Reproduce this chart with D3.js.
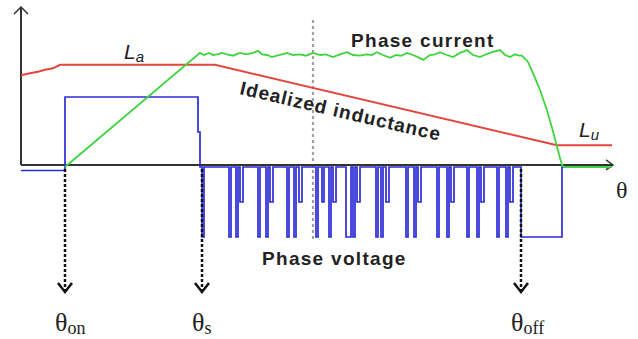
<!DOCTYPE html>
<html>
<head>
<meta charset="utf-8">
<script src="https://d3js.org/d3.v7.min.js"></script>
<style>
body { margin: 0; background: #fff; }
svg { display: block; }
</style>
</head>
<body>
<div id="chart"></div>
<script>
// theta in arbitrary units (0..300), signal values in per-unit
var thetaOn = 22, thetaS = 90.5, thetaOff = 250, thetaMid = 146;

// idealized inductance profile [theta, L]
var inductance = [
    [0, 1.31], [4.5, 1.34], [8.5, 1.36], [12, 1.39], [16, 1.41], [19.5, 1.46],
    [97, 1.46], [268, 0.31], [295.5, 0.31]
];

// phase current [theta, i]
var current = [
    [22, 0], [89.5, 1.63], [91.5, 1.60], [94, 1.63], [96, 1.60], [98, 1.61],
    [100.5, 1.63], [103, 1.61], [106, 1.59], [109.5, 1.63], [112.5, 1.61],
    [116, 1.63], [118.5, 1.66], [120.5, 1.61], [123, 1.60], [125.5, 1.57],
    [128, 1.59], [130.5, 1.61], [133, 1.63], [136, 1.60], [139.5, 1.61],
    [142.5, 1.59], [146, 1.63], [149.5, 1.60], [152.5, 1.61], [156, 1.57],
    [159.5, 1.61], [163, 1.64], [166, 1.60], [169.5, 1.59], [172.5, 1.61],
    [175.5, 1.60], [178, 1.64], [181, 1.60], [184.5, 1.56], [187.5, 1.60],
    [190, 1.59], [193, 1.63], [196, 1.60], [198.5, 1.57], [201, 1.53],
    [204.5, 1.60], [207, 1.61], [209.5, 1.64], [213, 1.60], [216, 1.57],
    [219.5, 1.63], [223, 1.67], [226, 1.60], [229.5, 1.57], [232.5, 1.61],
    [235.5, 1.64], [239.5, 1.67], [242, 1.60], [244.5, 1.57], [247, 1.61],
    [249, 1.59], [250.5, 1.59], [253.5, 1.50], [256, 1.34], [259.5, 1.10],
    [263, 0.81], [265.5, 0.56], [268, 0.29], [269.5, 0.13], [270.5, 0.03],
    [271.5, 0], [295.5, 0]
];

// phase voltage steps [theta, v] (value holds until next theta)
var voltage = [
    [0, -0.05], [22, 1], [88.5, 0.5], [89.5, 0], [90.5, -1], [91.5, 0],
    [104, -1], [105, 0], [107.5, -1], [108.5, 0], [109.5, -0.5], [111, 0],
    [118.5, -1], [119.5, 0], [122.5, -1], [123.5, 0], [124.5, -0.5], [126, 0],
    [133, -1], [134, 0], [136.5, -1], [137.5, 0], [139, -0.5], [140.5, 0],
    [147.5, -1], [148.5, 0], [150.5, -0.5], [151.5, 0], [154, -1], [155, 0], [156, -0.5], [157.5, 0],
    [162.5, -1], [165, 0], [166, -1], [167, 0], [168, -0.5], [169.5, 0],
    [177.5, -1], [178.5, 0], [180, -1], [181, 0], [182.5, -0.5], [184, 0],
    [192.5, -1], [193.5, 0], [196.5, -1], [197.5, 0], [198.5, -0.5], [200, 0],
    [208, -1], [209, 0], [213, -1], [214, 0], [215, -0.5], [216.5, 0],
    [223, -1], [224, 0], [228, -1], [229, 0], [230, -0.5], [231.5, 0],
    [238, -1], [239, 0], [242.5, -1], [243.5, 0], [244.5, -0.5], [246, 0],
    [250, -1], [270.5, 0], [295.5, 0]
];

var markers = [
    {theta: thetaOn, sub: 'on'},
    {theta: thetaS, sub: 's'},
    {theta: thetaOff, sub: 'off'}
];

var width = 638, height = 339;

var svg = d3.select('#chart').append('svg')
    .attr('width', width)
    .attr('height', height);

var x = d3.scaleLinear().domain([0, 300]).range([21, 621]);
var y = d3.scaleLinear().domain([-1, 2.2]).range([237, 13]);

var axisColor = '#333';
var sans = 'Liberation Sans, Arial, sans-serif';
var serif = 'Liberation Serif, Times New Roman, serif';

// dashed mid line
svg.append('line')
    .attr('x1', x(thetaMid)).attr('x2', x(thetaMid))
    .attr('y1', 20).attr('y2', 242)
    .attr('stroke', '#a0a0a0')
    .attr('stroke-width', 2.2)
    .attr('stroke-dasharray', '3,3');

// axes
var y0 = y(0.03);
svg.append('line')
    .attr('x1', x(0)).attr('x2', x(0))
    .attr('y1', y0).attr('y2', 8)
    .attr('stroke', axisColor).attr('stroke-width', 2);
svg.append('path')
    .attr('d', 'M' + (x(0) - 7) + ',' + 14 + 'L' + x(0) + ',' + 7 + 'L' + (x(0) + 7) + ',' + 14)
    .attr('fill', 'none').attr('stroke', axisColor).attr('stroke-width', 1.5);

svg.append('line')
    .attr('x1', x(0)).attr('x2', x(296))
    .attr('y1', y0).attr('y2', y0)
    .attr('stroke', axisColor).attr('stroke-width', 2);
svg.append('path')
    .attr('d', 'M' + (x(296) - 7) + ',' + (y0 - 5) + 'L' + x(296) + ',' + y0 + 'L' + (x(296) - 7) + ',' + (y0 + 5))
    .attr('fill', 'none').attr('stroke', axisColor).attr('stroke-width', 1.5);

// voltage
var voltLine = d3.line()
    .x(function(d) { return x(d[0]); })
    .y(function(d) { return y(d[1]); })
    .curve(d3.curveStepAfter);

svg.append('path')
    .datum(voltage)
    .attr('d', voltLine)
    .attr('fill', 'none')
    .attr('stroke', '#2b2bd6')
    .attr('stroke-width', 1.7);

var line = d3.line()
    .x(function(d) { return x(d[0]); })
    .y(function(d) { return y(d[1]); });

// inductance
svg.append('path')
    .datum(inductance)
    .attr('d', line)
    .attr('fill', 'none')
    .attr('stroke', '#e4453d')
    .attr('stroke-width', 2);

// current
svg.append('path')
    .datum(current)
    .attr('d', line)
    .attr('fill', 'none')
    .attr('stroke', '#3fd43f')
    .attr('stroke-width', 1.8);

// dotted arrows and theta labels
markers.forEach(function(m) {
    var cx = x(m.theta);
    svg.append('line')
        .attr('x1', cx).attr('x2', cx)
        .attr('y1', y(0) + 2).attr('y2', 291)
        .attr('stroke', '#111')
        .attr('stroke-width', 2.5)
        .attr('stroke-dasharray', '3,2');
    svg.append('path')
        .attr('d', 'M' + (cx - 7) + ',283L' + cx + ',292L' + (cx + 7) + ',283')
        .attr('fill', 'none').attr('stroke', '#111').attr('stroke-width', 2.5);

    var t = svg.append('text')
        .attr('x', cx - 10)
        .attr('y', 331)
        .attr('font-family', serif)
        .attr('font-size', 26)
        .attr('fill', '#222');
    t.append('tspan').text('θ');
    t.append('tspan').attr('font-size', 18).attr('dy', 3).text(m.sub);
});

// theta axis label
svg.append('text')
    .attr('x', 616).attr('y', 198)
    .attr('font-family', serif)
    .attr('font-size', 24)
    .attr('fill', '#222')
    .text('θ');

// L labels
var addL = function(px, py, sub) {
    var t = svg.append('text')
        .attr('x', px).attr('y', py)
        .attr('font-family', sans)
        .attr('font-style', 'italic')
        .attr('font-size', 21)
        .attr('fill', '#222');
    t.append('tspan').text('L');
    t.append('tspan').attr('font-size', 15).attr('dy', 3).text(sub);
};
addL(124, 59, 'a');
addL(579, 137, 'u');

// annotations
svg.append('text')
    .attr('x', 351).attr('y', 47)
    .attr('font-family', sans)
    .attr('font-weight', 'bold')
    .attr('font-size', 19)
    .attr('letter-spacing', 1.3)
    .attr('fill', '#222')
    .text('Phase current');

svg.append('text')
    .attr('x', 262).attr('y', 265)
    .attr('font-family', sans)
    .attr('font-weight', 'bold')
    .attr('font-size', 19)
    .attr('letter-spacing', 1.3)
    .attr('fill', '#222')
    .text('Phase voltage');

svg.append('text')
    .attr('transform', 'translate(239,94) rotate(13.2)')
    .attr('font-family', sans)
    .attr('font-weight', 'bold')
    .attr('font-size', 19)
    .attr('letter-spacing', 1)
    .attr('fill', '#222')
    .text('Idealized inductance');
</script>
</body>
</html>
